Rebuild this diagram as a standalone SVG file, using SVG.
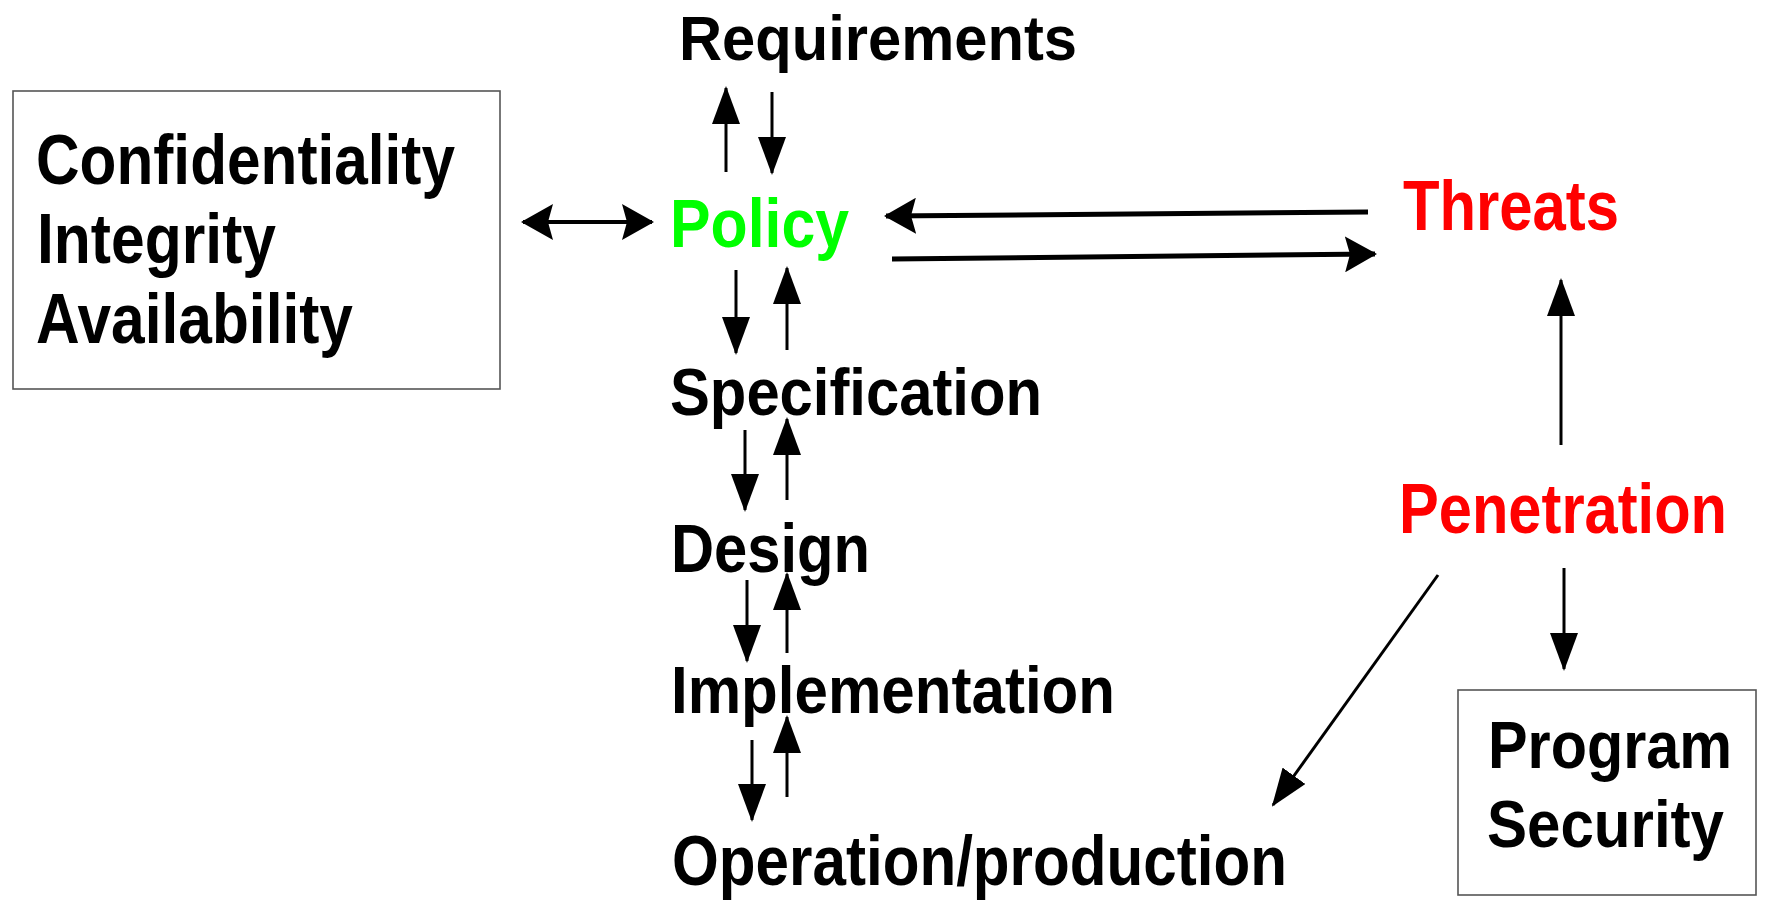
<svg xmlns="http://www.w3.org/2000/svg" width="1767" height="914" viewBox="0 0 1767 914">
  <style>
    text { font-family: "Liberation Sans", Arial, sans-serif; font-weight: bold; fill: #000; }
    .green { fill: #00ff00; }
    .red { fill: #ff0000; }
    .box { fill: #fff; stroke: #555; stroke-width: 1.6; }
    .thin { stroke: #000; stroke-width: 3; fill: none; marker-end: url(#head); }
    .thick { stroke: #000; stroke-width: 5; fill: none; marker-end: url(#headWide); }
    .both { stroke: #000; stroke-width: 4; fill: none; marker-start: url(#headWide); marker-end: url(#headWide); }
  </style>
  <defs>
    <marker id="head" markerUnits="userSpaceOnUse" viewBox="0 -14 38 28" markerWidth="38" markerHeight="28" refX="36" refY="0" orient="auto-start-reverse">
      <path d="M0,-14 L38,0 L0,14 Z" fill="#000"/>
    </marker>
    <marker id="headWide" markerUnits="userSpaceOnUse" viewBox="0 -18 32 36" markerWidth="32" markerHeight="36" refX="30" refY="0" orient="auto-start-reverse">
      <path d="M0,-18 L32,0 L0,18 L5,0 Z" fill="#000"/>
    </marker>
  </defs>

  <rect width="1767" height="914" fill="#fff"/>

  <g id="cia">
    <rect class="box" x="13" y="91" width="487" height="298"/>
    <text x="36" y="184" font-size="71" textLength="419" lengthAdjust="spacingAndGlyphs">Confidentiality</text>
    <text x="37" y="263" font-size="70" textLength="239" lengthAdjust="spacingAndGlyphs">Integrity</text>
    <text x="36" y="343" font-size="70" textLength="317" lengthAdjust="spacingAndGlyphs">Availability</text>
  </g>

  <g id="requirements">
    <text x="679" y="60" font-size="63" textLength="398" lengthAdjust="spacingAndGlyphs">Requirements</text>
  </g>

  <g id="policy">
    <text class="green" x="670" y="247" font-size="68" textLength="179" lengthAdjust="spacingAndGlyphs">Policy</text>
  </g>

  <g id="specification">
    <text x="670" y="415" font-size="67" textLength="372" lengthAdjust="spacingAndGlyphs">Specification</text>
  </g>

  <g id="design">
    <text x="671" y="572" font-size="68" textLength="199" lengthAdjust="spacingAndGlyphs">Design</text>
  </g>

  <g id="implementation">
    <text x="671" y="713" font-size="66" textLength="444" lengthAdjust="spacingAndGlyphs">Implementation</text>
  </g>

  <g id="operation">
    <text x="672" y="885" font-size="70" textLength="615" lengthAdjust="spacingAndGlyphs">Operation/production</text>
  </g>

  <g id="threats">
    <text class="red" x="1403" y="230" font-size="70" textLength="216" lengthAdjust="spacingAndGlyphs">Threats</text>
  </g>

  <g id="penetration">
    <!-- narrowed horizontally so the label stays clear of the right edge -->
    <text class="red" transform="translate(1399,533) scale(0.852,1)" x="0" y="0" font-size="70">Penetration</text>
  </g>

  <g id="program-security">
    <rect class="box" x="1458" y="690" width="298" height="205"/>
    <text x="1488" y="768" font-size="67" textLength="244" lengthAdjust="spacingAndGlyphs">Program</text>
    <text x="1487" y="847" font-size="67" textLength="237" lengthAdjust="spacingAndGlyphs">Security</text>
  </g>

  <g id="connectors">
    <line class="both" x1="523" y1="222" x2="652" y2="222"/>
    <line class="thin" x1="726" y1="172" x2="726" y2="88"/>
    <line class="thin" x1="772" y1="92" x2="772" y2="173"/>
    <line class="thin" x1="736" y1="270" x2="736" y2="353"/>
    <line class="thin" x1="787" y1="350" x2="787" y2="268"/>
    <line class="thin" x1="745" y1="430" x2="745" y2="510"/>
    <line class="thin" x1="787" y1="500" x2="787" y2="419"/>
    <line class="thin" x1="747" y1="580" x2="747" y2="661"/>
    <line class="thin" x1="787" y1="653" x2="787" y2="574"/>
    <line class="thin" x1="752" y1="740" x2="752" y2="820"/>
    <line class="thin" x1="787" y1="797" x2="787" y2="717"/>
    <line class="thick" x1="1368" y1="212" x2="886" y2="216"/>
    <line class="thick" x1="892" y1="259" x2="1375" y2="254"/>
    <line class="thin" x1="1561" y1="445" x2="1561" y2="280"/>
    <line class="thin" x1="1564" y1="568" x2="1564" y2="669"/>
    <line class="thin" x1="1438" y1="575" x2="1273" y2="805" stroke-width="4"/>
  </g>
</svg>
